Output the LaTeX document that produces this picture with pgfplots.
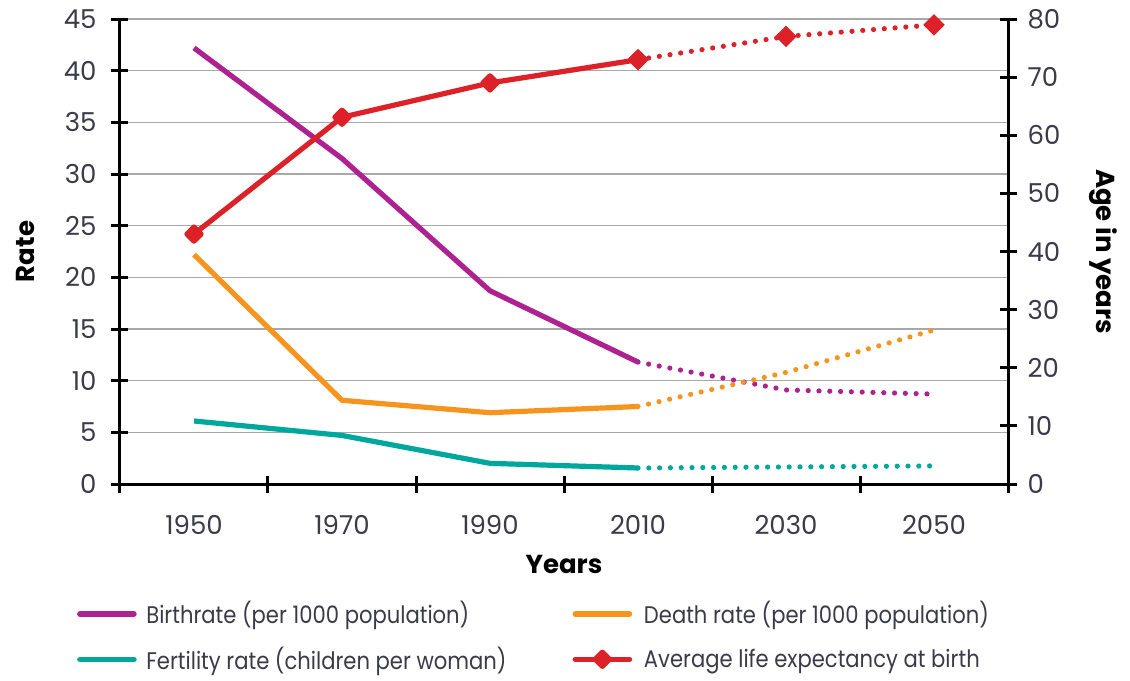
\documentclass[border=0pt]{standalone}
\usepackage{pgfplots}
\pgfplotsset{compat=1.18}
\usepackage{fontspec}
\setmainfont{Poppins}
\newfontfamily\legfont[FakeStretch=0.88]{Poppins}
\definecolor{cBirth}{HTML}{AD2290}
\definecolor{cDeath}{HTML}{F7941E}
\definecolor{cFert}{HTML}{00A79D}
\definecolor{cLife}{HTML}{DC2128}
\definecolor{cGrid}{HTML}{A8A8A8}
\definecolor{cText}{HTML}{3A3A48}
\begin{document}
\begin{tikzpicture}
\pgfplotsset{
  common/.style={
    width=444pt, height=232.5pt, scale only axis,
    xmin=1940, xmax=2060,
    tick align=outside,
    every tick/.style={black, line width=1.5pt},
    major tick length=8.5pt,
    tick label style={font=\fontsize{13}{15}\selectfont, text=cText},
    /pgf/number format/assume math mode=true,
  },
  solidline/.style={line width=2.6pt, line join=round},
  dotline/.style={line width=2.6pt, line cap=round, dash pattern=on 0pt off 5.4pt},
}
\begin{axis}[common,
  ymin=0, ymax=45,
  axis x line=bottom, axis y line=left,
  x axis line style={-, line width=1.5pt, black},
  y axis line style={-, line width=1.5pt, black},
  xtick={1940,1960,...,2060},
  xticklabels={},
  extra x ticks={1950,1970,1990,2010,2030,2050},
  extra x tick labels={1950,1970,1990,2010,2030,2050},
  extra x tick style={major tick length=0pt, xticklabel style={yshift=-12pt}},
  ytick={0,5,...,45},
  yticklabel style={xshift=-4pt},
  ymajorgrids, grid style={cGrid, line width=0.8pt},
  xlabel={Years},
  ylabel={Rate},
  xlabel style={at={(axis description cs:0.5,-0.174)}, anchor=center, font=\fontsize{13}{15}\selectfont\bfseries},
  ylabel style={at={(axis description cs:-0.107,0.5)}, anchor=center, font=\fontsize{13}{15}\selectfont\bfseries},
]
\addplot[cBirth, solidline] coordinates {(1950,42.2)(1970,31.5)(1990,18.7)(2010,11.8)};
\addplot[cBirth, dotline] coordinates {(2010,11.8)(2030,9.1)(2050,8.7)};
\addplot[cDeath, solidline] coordinates {(1950,22.2)(1970,8.1)(1990,6.9)(2010,7.5)};
\addplot[cDeath, dotline] coordinates {(2010,7.5)(2030,10.8)(2050,14.9)};
\addplot[cFert, solidline] coordinates {(1950,6.1)(1970,4.7)(1990,2.0)(2010,1.55)};
\addplot[cFert, dotline] coordinates {(2010,1.55)(2030,1.65)(2050,1.75)};
\end{axis}
\begin{axis}[common,
  ymin=0, ymax=80,
  axis x line=none, axis y line=right,
  y axis line style={-, line width=1.5pt, black},
  ytick={0,10,...,80},
  yticklabel style={anchor=west, xshift=2pt},
  ylabel={Age in years},
  ylabel style={at={(axis description cs:1.107,0.5)}, anchor=center, rotate=180, font=\fontsize{13}{15}\selectfont\bfseries},
  legend columns=2,
  legend cell align=left,
  legend style={draw=none, fill=none, at={(axis description cs:-0.0555,-0.234)}, anchor=north west,
    font=\fontsize{12}{14}\legfont, text=cText,
    /tikz/every even column/.append style={column sep=31pt},
    row sep=6pt},
]
\addlegendimage{legend image code/.code={\draw[cBirth, line width=2.8pt, line cap=round] (0pt,0pt) -- (27pt,0pt); \path (31pt,0pt);}}
\addlegendentry{Birthrate (per 1000 population)}
\addlegendimage{legend image code/.code={\draw[cDeath, line width=2.8pt, line cap=round] (0pt,0pt) -- (27pt,0pt); \path (31pt,0pt);}}
\addlegendentry{Death rate (per 1000 population)}
\addlegendimage{legend image code/.code={\draw[cFert, line width=2.8pt, line cap=round] (0pt,0pt) -- (27pt,0pt); \path (31pt,0pt);}}
\addlegendentry{Fertility rate (children per woman)}
\addplot[cLife, solidline, mark=square*, mark size=2.5pt, mark options={rotate=45, solid},
  legend image code/.code={\draw[cLife, line width=2.8pt, line cap=round] (0pt,0pt) -- (27pt,0pt);
    \fill[cLife, rotate around={45:(13.5pt,0pt)}] (11pt,-2.5pt) rectangle (16pt,2.5pt); \path (31pt,0pt);}]
  coordinates {(1950,43)(1970,63.1)(1990,69)(2010,73)};
\addlegendentry{Average life expectancy at birth}
\addplot[cLife, dotline, mark=square*, mark size=2.5pt, mark options={rotate=45, solid}, forget plot]
  coordinates {(2010,73)(2030,77)(2050,79)};
\end{axis}
\path[use as bounding box] (current axis.south west) ++(-60pt,-97.5pt) rectangle ++(565pt,339.5pt);
\end{tikzpicture}
\end{document}
